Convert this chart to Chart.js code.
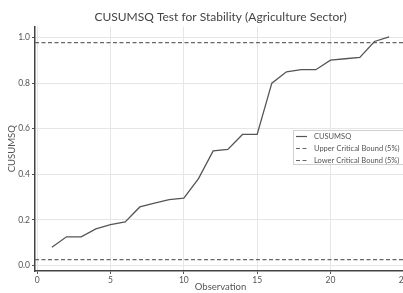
<!DOCTYPE html>
<html><head><meta charset="utf-8">
<script src="https://cdn.jsdelivr.net/npm/chart.js@4.4.0/dist/chart.umd.min.js"></script>
<style>html,body{margin:0;padding:0;background:#fff;overflow:hidden;width:403px;height:293px}#wrap{width:420px;height:293px}</style>
</head><body><div id="wrap"><canvas id="c" width="420" height="293"></canvas></div>
<script>
const observations = [1,2,3,4,5,6,7,8,9,10,11,12,13,14,15,16,17,18,19,20,21,22,23,24];
const cusumsq = [0.080,0.126,0.126,0.161,0.179,0.191,0.257,0.274,0.289,0.296,0.381,0.503,0.509,0.575,0.575,0.800,0.850,0.859,0.859,0.901,0.907,0.913,0.983,1.003];
const upperBound = 0.978;
const lowerBound = 0.026;
const xTicks = [0,5,10,15,20,25];
const yTicks = [0.0,0.2,0.4,0.6,0.8,1.0];
const seriesLabels = ['CUSUMSQ','Upper Critical Bound (5%)','Lower Critical Bound (5%)'];
const FONT = 'Lato';

const xMin = -0.15, xMax = 25.15;
const lineData = observations.map((x,i)=>({x, y:cusumsq[i]}));
const upData = [{x:xMin,y:upperBound},{x:xMax,y:upperBound}];
const loData = [{x:xMin,y:lowerBound},{x:xMax,y:lowerBound}];

const legendPlugin = {
  id:'boxLegend',
  afterDraw(chart){
    const ctx = chart.ctx;
    const x0 = 293, y0 = 130, w = 115, h = 34;
    ctx.save();
    ctx.fillStyle = 'rgba(255,255,255,0.9)';
    ctx.strokeStyle = '#d0d0d0';
    ctx.lineWidth = 1;
    ctx.fillRect(x0,y0,w,h);
    ctx.strokeRect(x0+0.5,y0+0.5,w,h);
    const ys = [136,148,160];
    chart.data.datasets.forEach((ds,i)=>{
      ctx.strokeStyle = ds.borderColor;
      ctx.lineWidth = 1.2;
      ctx.setLineDash(ds.borderDash || []);
      ctx.beginPath(); ctx.moveTo(296,ys[i]+0.5); ctx.lineTo(307,ys[i]+0.5); ctx.stroke();
      ctx.setLineDash([]);
      ctx.fillStyle = '#555';
      ctx.font = '7.5px ' + FONT;
      ctx.textBaseline = 'middle';
      ctx.textAlign = 'left';
      ctx.fillText(ds.label, 314, ys[i]+0.5);
    });
    ctx.restore();
  }
};

new Chart(document.getElementById('c'), {
  type:'line',
  data:{datasets:[
    {label:seriesLabels[0], data:lineData, borderColor:'#555', borderWidth:1.3, pointRadius:0, tension:0, fill:false},
    {label:seriesLabels[1], data:upData, borderColor:'#666', borderWidth:1.3, borderDash:[4,2.5], pointRadius:0, fill:false},
    {label:seriesLabels[2], data:loData, borderColor:'#666', borderWidth:1.3, borderDash:[4,2.5], pointRadius:0, fill:false}
  ]},
  options:{
    responsive:false, animation:false,
    layout:{padding:{top:0,right:14,bottom:0,left:0}},
    plugins:{
      legend:{display:false}, tooltip:{enabled:false},
      title:{display:true, fullSize:false, text:'CUSUMSQ Test for Stability (Agriculture Sector)', color:'#444',
        font:{family:FONT, size:12, weight:'normal'}, padding:{top:10,bottom:2}}
    },
    scales:{
      x:{type:'linear', min:xMin, max:xMax,
        afterBuildTicks(s){ s.ticks = xTicks.map(v=>({value:v})); },
        afterFit(s){ s.height = 22; },
        grid:{color:'#e6e6e6', lineWidth:1, drawTicks:true, tickLength:3, tickColor:'#555'},
        border:{color:'#444', width:1.5},
        ticks:{color:'#555', font:{family:FONT,size:8.5}, padding:1, maxRotation:0, autoSkip:false, callback:v=>String(v)},
        title:{display:true, text:'Observation', color:'#555', font:{family:FONT,size:9.5}, padding:{top:0,bottom:0}}
      },
      y:{type:'linear', min:-0.024, max:1.049,
        afterBuildTicks(s){ s.ticks = yTicks.map(v=>({value:v})); },
        afterFit(s){ s.width = 35; },
        grid:{color:'#e6e6e6', lineWidth:1, drawTicks:true, tickLength:3, tickColor:'#555'},
        border:{color:'#444', width:1.5},
        ticks:{color:'#555', font:{family:FONT,size:8.5}, padding:2, callback:v=>v.toFixed(1)},
        title:{display:true, text:'CUSUMSQ', color:'#555', font:{family:FONT,size:9.5}, padding:{top:6,bottom:2}}
      }
    }
  },
  plugins:[legendPlugin]
});
</script></body></html>
